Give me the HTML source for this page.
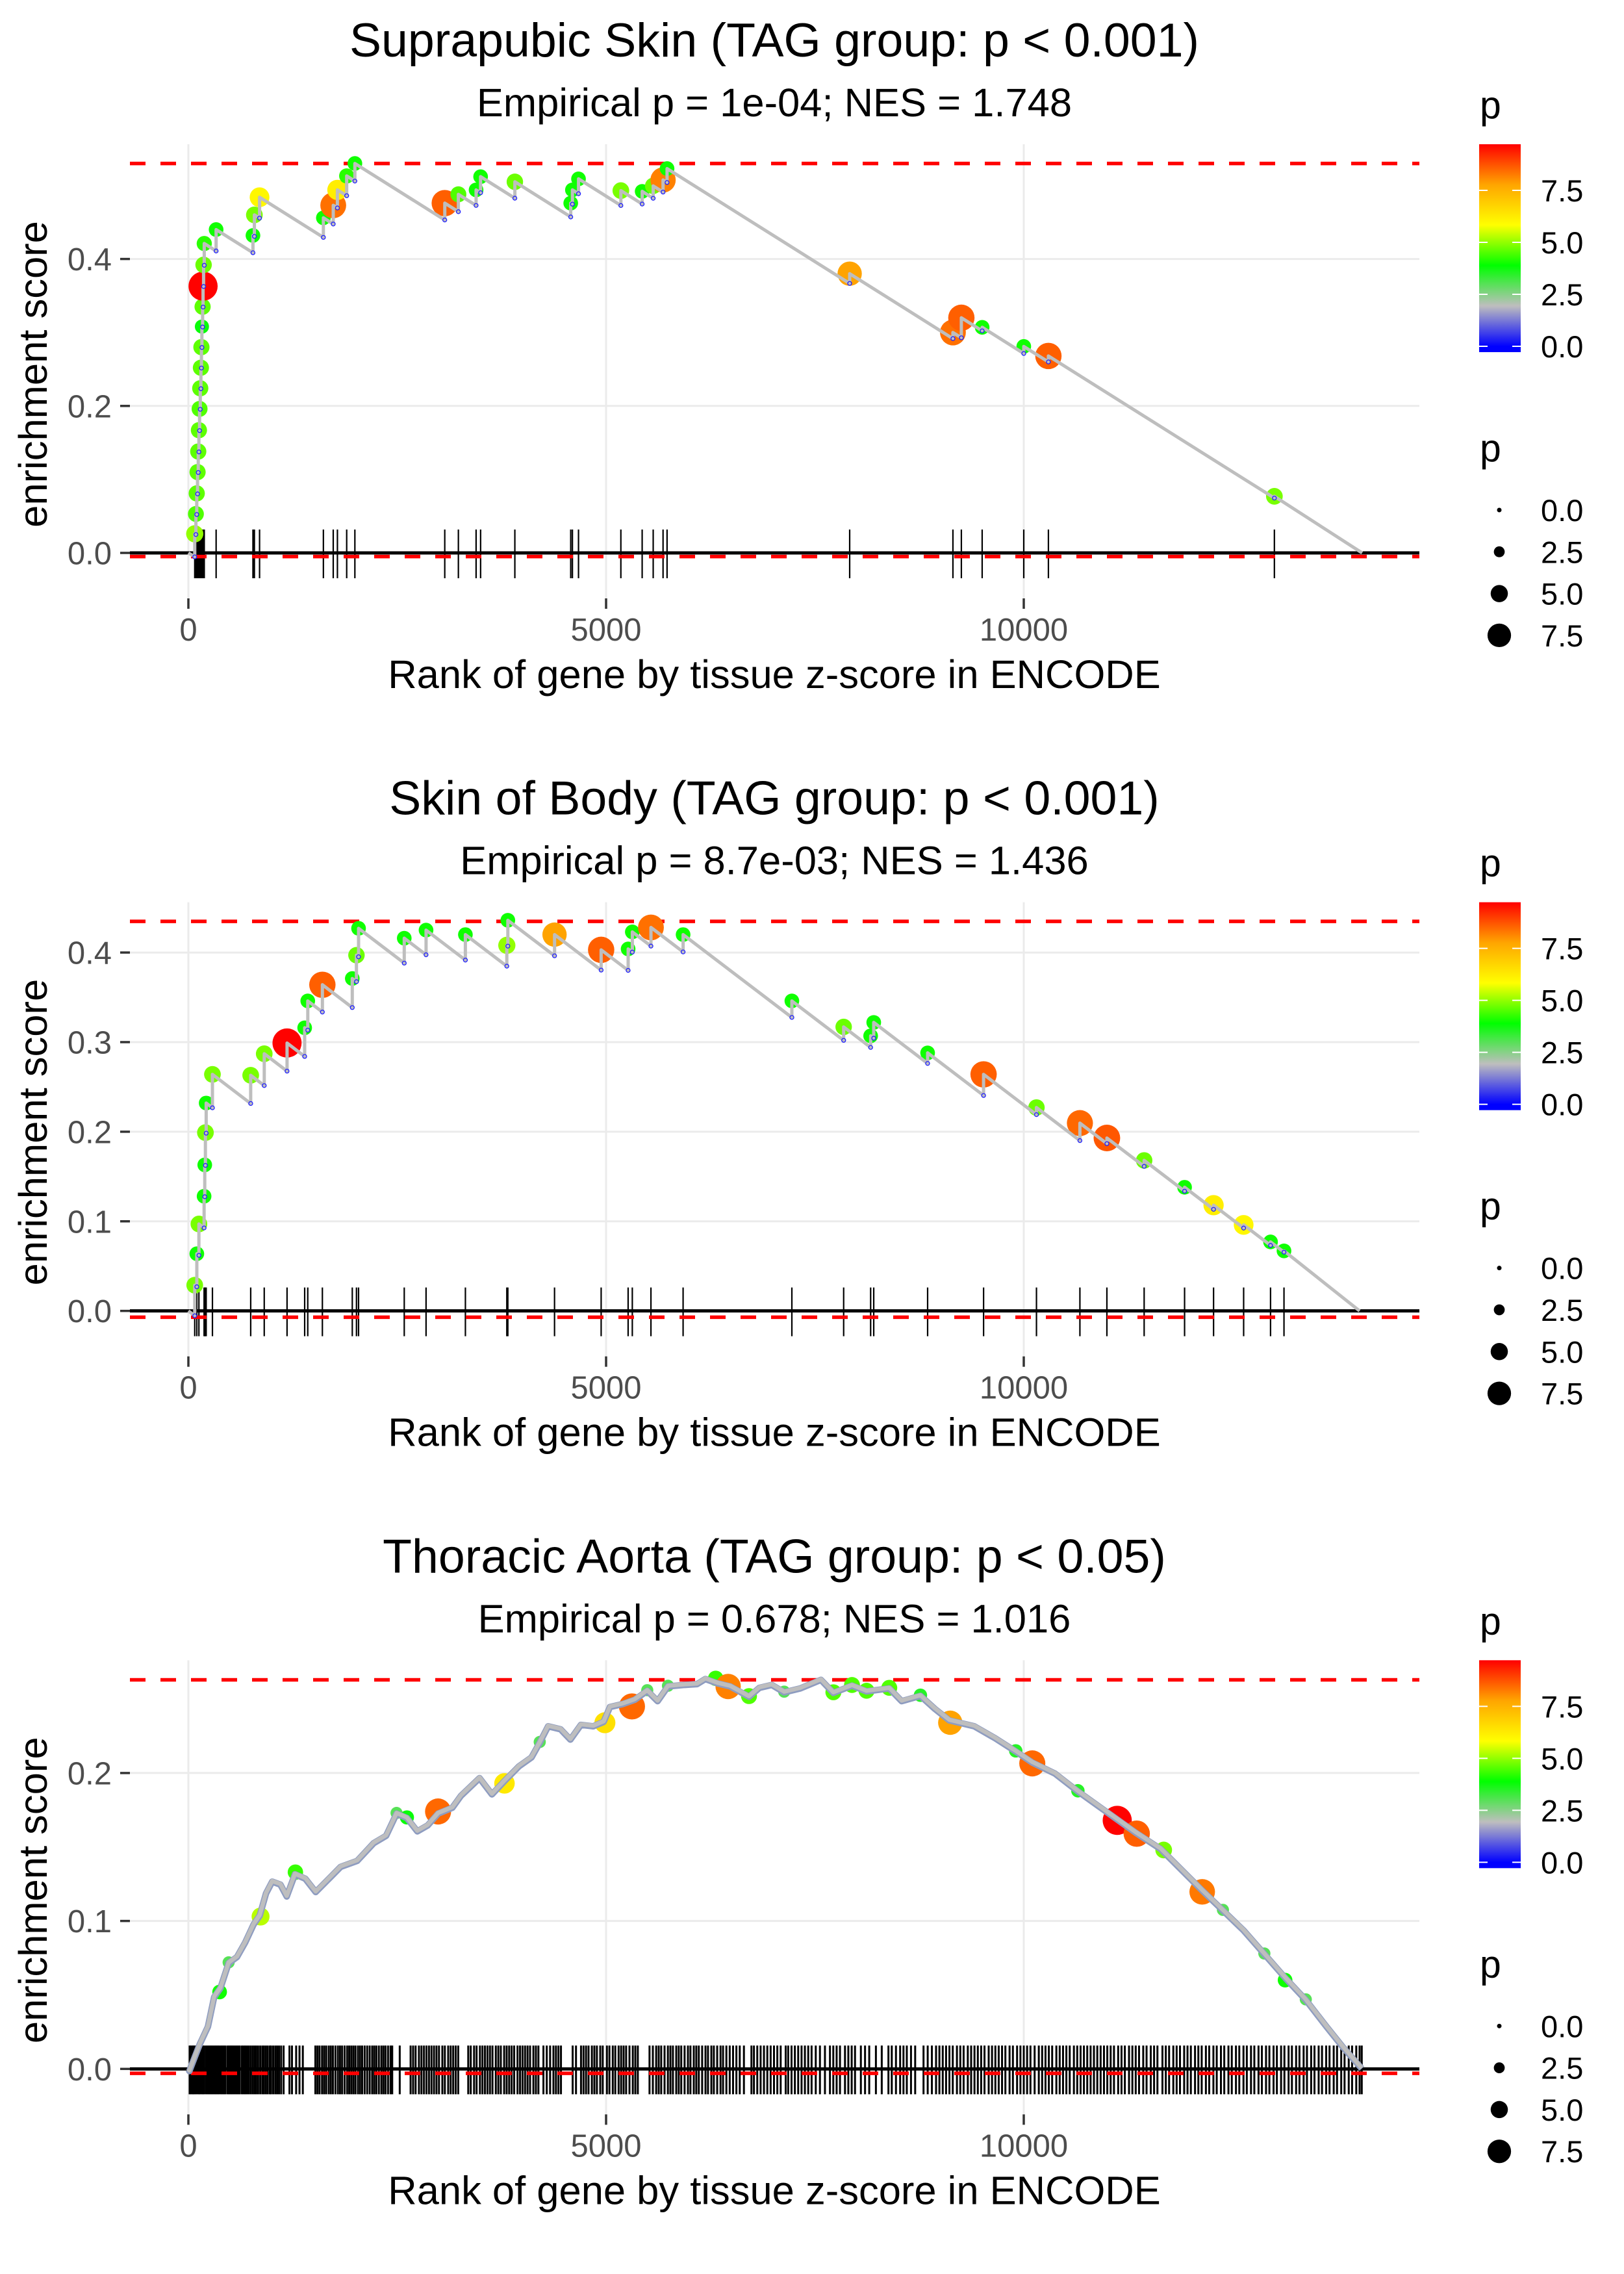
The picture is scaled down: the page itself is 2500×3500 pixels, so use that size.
<!DOCTYPE html>
<html><head><meta charset="utf-8"><title>Enrichment plots</title>
<style>html,body{margin:0;padding:0;background:#fff}svg{display:block;font-family:"Liberation Sans",Arial,sans-serif}</style>
</head><body>
<svg id="root" width="2500" height="3500" viewBox="0 0 2500 3500" xmlns="http://www.w3.org/2000/svg">
<defs>
<linearGradient id="pgrad" gradientUnits="userSpaceOnUse" x1="0" y1="533" x2="0" y2="222">
<stop offset="0" stop-color="#0000ff"/><stop offset="0.2" stop-color="#bebebe"/><stop offset="0.4" stop-color="#00ff00"/><stop offset="0.6" stop-color="#ffff00"/><stop offset="0.8" stop-color="#ffa500"/><stop offset="1" stop-color="#ff0000"/>
</linearGradient>
</defs>
</svg>
<script>
// ---------- data ----------
const panelTitles = ["Suprapubic Skin (TAG group: p < 0.001)", "Skin of Body (TAG group: p < 0.001)", "Thoracic Aorta (TAG group: p < 0.05)"];
const panelSubtitles = ["Empirical p = 1e-04; NES = 1.748", "Empirical p = 8.7e-03; NES = 1.436", "Empirical p = 0.678; NES = 1.016"];
const esMaxLines = [0.530, 0.4348, 0.263];
const esMinLines = [-0.005, -0.007, -0.003];
const endRanks = [14050, 14020, 14046];
const missPenalty = [7.15e-5, 7.1e-5];
const yTicks1 = [0.0, 0.2, 0.4];
const yTicks2 = [0.0, 0.1, 0.2, 0.3, 0.4];
const yTicks3 = [0.0, 0.1, 0.2];
const xTicks = [0, 5000, 10000];
const colorTicks = [0.0, 2.5, 5.0, 7.5];
const sizeTicks = [0.0, 2.5, 5.0, 7.5];

const p1Ranks = [76,90,100,110,118,126,134,142,150,156,162,170,176,182,190,332,773,790,852,1616,1734,1784,1895,1993,3069,3232,3444,3498,3908,4577,4597,4670,5177,5432,5564,5682,5730,7916,9152,9253,9502,10000,10295,13000];
const p1ES = [0.026,0.053,0.081,0.110,0.138,0.167,0.196,0.224,0.252,0.280,0.308,0.335,0.363,0.392,0.421,0.440,0.432,0.460,0.484,0.456,0.473,0.494,0.513,0.530,0.476,0.488,0.494,0.512,0.505,0.476,0.494,0.509,0.493,0.492,0.4995,0.5075,0.523,0.380,0.300,0.320,0.307,0.281,0.268,0.077];
const p1P = [5,4.5,4.6,4.6,4.6,4.6,4.5,4.6,4.6,4.6,3.8,4.6,9.7,4.7,4.2,4.0,4.0,4.8,6.0,4.0,8.4,6.2,4.2,4.0,8.6,4.5,4.0,4.0,4.7,4.0,4.0,4.0,4.8,4.0,4.7,8.2,4.0,7.8,8.4,8.6,4.0,4.0,8.6,4.8];

const p2Ranks = [76,101,126,188,196,204,213,288,746,908,1181,1392,1429,1604,1962,2012,2037,2584,2845,3316,3812,3824,4383,4941,5264,5314,5537,5922,7224,7844,8167,8204,8849,9519,10152,10672,10995,11441,11925,12272,12632,12954,13115];
const p2ES = [0.0287,0.0638,0.097,0.128,0.163,0.199,0.232,0.264,0.263,0.287,0.299,0.316,0.346,0.364,0.371,0.397,0.427,0.416,0.425,0.420,0.408,0.436,0.420,0.403,0.404,0.423,0.428,0.420,0.346,0.317,0.307,0.322,0.288,0.264,0.227,0.2096,0.193,0.168,0.138,0.118,0.096,0.077,0.067];
const p2P = [4.8,4.0,4.8,4.0,4.0,4.8,4.0,4.8,4.8,4.8,9.7,4.0,4.0,8.6,4.0,4.7,4.0,4.0,4.0,4.0,5.0,4.0,7.8,8.6,4.0,4.0,8.4,4.0,4.0,4.7,4.0,4.0,4.0,8.6,4.7,8.5,8.7,4.7,4.0,6.2,6.0,4.0,4.0];

const p3CurveRanks = [0,12,135,234,309,383,482,582,681,780,854,929,1003,1102,1177,1276,1400,1524,1648,1822,2020,2218,2367,2492,2616,2740,2864,2989,3160,3262,3485,3634,3784,3958,4107,4206,4306,4455,4573,4698,4847,4971,5046,5195,5344,5493,5617,5741,5940,6089,6188,6337,6486,6711,6835,6983,7132,7324,7572,7721,7944,8118,8390,8539,8763,8936,9110,9408,9656,9904,10102,10375,10648,10896,11119,11342,11640,11888,12136,12384,12632,12880,13128,13376,13624,13822,14046];
const p3CurveES = [0,-0.001,0.017,0.029,0.049,0.055,0.072,0.076,0.086,0.098,0.104,0.119,0.127,0.125,0.117,0.132,0.129,0.120,0.127,0.137,0.141,0.153,0.158,0.173,0.170,0.161,0.165,0.173,0.177,0.185,0.197,0.186,0.195,0.205,0.211,0.221,0.232,0.230,0.223,0.233,0.232,0.235,0.245,0.247,0.250,0.256,0.249,0.259,0.260,0.2605,0.264,0.261,0.259,0.252,0.258,0.260,0.255,0.2576,0.2634,0.2546,0.2595,0.2556,0.2576,0.249,0.2526,0.2438,0.236,0.232,0.224,0.215,0.2075,0.200,0.188,0.178,0.169,0.160,0.149,0.135,0.121,0.1075,0.094,0.078,0.062,0.047,0.029,0.015,0.0006];
const p3PtRanks = [482,2492,4206,5493,5741,6711,7132,7721,7944,8118,8390,8763,9904,10648,12384,12880,13376,374,864,1281,2616,2989,3784,4986,5310,6312,6461,9120,10102,11119,11352,11675,12136,13128];
const p3PtES = [0.072,0.173,0.221,0.256,0.259,0.252,0.255,0.2546,0.2595,0.2556,0.2576,0.2526,0.215,0.188,0.1075,0.078,0.047,0.052,0.103,0.133,0.170,0.174,0.193,0.234,0.245,0.264,0.2585,0.234,0.2065,0.168,0.159,0.148,0.1197,0.060];
const p3PtP = [3,3,3,3,3,4.5,3,4.5,4.5,4.5,4.5,3.5,3.5,3.5,3,3,3,4.0,5.3,4.3,3.8,8.5,6.3,6.5,8.5,4.3,8.2,7.8,8.5,9.7,8.6,4.8,8.3,4.0];
const p3Rug = [15,30,48,60,75,92,110,128,140,160,175,190,212,230,248,265,282,300,318,335,352,370,392,410,428,445,470,488,505,522,540,560,578,598,615,640,660,680,700,722,745,768,790,812,835,860,885,905,928,950,975,990,
1015,1040,1062,1085,1110,1140,1210,1240,1290,1330,1370,1520,1545,1570,1600,1625,1650,1680,1705,1730,1760,1790,1815,1840,1870,1900,1925,1950,1975,
2000,2030,2055,2080,2110,2140,2170,2200,2225,2250,2280,2310,2335,2360,2390,2420,2440,2530,2660,2690,2720,2760,2790,2820,2850,2880,2910,2940,2970,
3000,3040,3070,3110,3140,3170,3200,3230,3350,3380,3420,3450,3490,3520,3550,3580,3610,3640,3680,3710,3740,3780,3810,3840,3870,3900,3940,3970,
4000,4030,4060,4090,4130,4160,4190,4250,4290,4330,4370,4400,4430,4460,4600,4640,4700,4730,4760,4790,4830,4860,4890,4930,4960,
5010,5040,5080,5110,5150,5180,5210,5240,5280,5320,5350,5380,5520,5560,5600,5630,5660,5700,5740,5770,5800,5840,5870,5900,5940,5980,
6010,6050,6080,6110,6150,6190,6220,6260,6290,6330,6370,6400,6440,6480,6520,6560,6600,6650,6740,6770,6810,6850,6890,6930,6970,
7010,7050,7090,7150,7180,7220,7260,7300,7340,7380,7420,7460,7510,7560,7620,7680,7720,7760,7800,7860,7900,7940,7980,
8050,8100,8150,8230,8300,8380,8420,8470,8520,8560,8600,8650,8700,8800,8850,8900,8950,8990,
9030,9070,9110,9150,9200,9240,9280,9330,9370,9410,9450,9490,9530,9580,9620,9660,9700,9740,9780,9830,9870,9920,9960,
10000,10040,10080,10130,10180,10220,10260,10300,10340,10390,10430,10470,10510,10550,10600,10640,10680,10720,10760,10800,10840,10880,10920,10960,
11000,11040,11080,11130,11170,11210,11260,11300,11340,11380,11430,11470,11520,11560,11600,11660,11700,11740,11790,11830,11870,11920,11960,
12000,12050,12090,12130,12180,12220,12270,12310,12360,12400,12450,12490,12540,12580,12630,12670,12720,12760,12810,12850,12900,12940,12990,
13030,13080,13120,13170,13210,13260,13300,13350,13390,13440,13480,13530,13570,13620,13660,13710,13750,13800,13840,13890,13930,13980,14020,14046];

// ---------- helpers ----------
const NS = "http://www.w3.org/2000/svg";
const root = document.getElementById("root");
function mk(tag, attrs, parent) {
  const e = document.createElementNS(NS, tag);
  for (const k in attrs) e.setAttribute(k, attrs[k]);
  parent.appendChild(e);
  return e;
}
const colorStops = [[0, [0,0,255]], [1.944, [190,190,190]], [3.888, [0,255,0]], [5.832, [255,255,0]], [7.776, [255,165,0]], [9.72, [255,0,0]]];
function pColor(p) {
  if (p <= 0) return "rgb(0,0,255)";
  for (let i = 1; i < colorStops.length; i++) {
    if (p <= colorStops[i][0]) {
      const a = colorStops[i-1], b = colorStops[i];
      const t = (p - a[0]) / (b[0] - a[0]);
      const c = a[1].map((v, j) => Math.round(v + (b[1][j] - v) * t));
      return "rgb(" + c.join(",") + ")";
    }
  }
  return "rgb(255,0,0)";
}
function pRadius(p) { return 3.5 + 1.95 * p; }
const X0 = 290, XPX = 643 / 5000, Y0 = 851;
function xs(r) { return X0 + r * XPX; }
const yScaleK = [1131, 1379, 2277];
const PL = 200, PR = 2185, PT = 222, PB = 930;
const FS_TITLE = 73.5, FS_SUB = 61.5, FS_AXT = 61.5, FS_TICK = 49, FS_LEG = 47, FS_LEGT = 59;

function drawPanel(idx) {
  const g = mk("g", {transform: "translate(0," + (idx * 3500 / 3).toFixed(2) + ")"}, root);
  
  
  const K = yScaleK[idx];
  const ys = v => Y0 - v * K;
  const yT = [yTicks1, yTicks2, yTicks3][idx];

  const t = mk("text", {x: 1192, y: 87, "font-size": FS_TITLE, "text-anchor": "middle", fill: "#000"}, g);
  t.textContent = panelTitles[idx];
  
  
  const st = mk("text", {x: 1192, y: 179, "font-size": FS_SUB, "text-anchor": "middle", fill: "#000"}, g);
  st.textContent = panelSubtitles[idx];
  
  

  const grid = mk("g", {stroke: "#ebebeb", "stroke-width": 3}, g);
  
  
  xTicks.forEach(v => {
    const l = mk("line", {x1: xs(v), x2: xs(v), y1: PT, y2: PB}, grid);
    
    
  });
  yT.forEach(v => {
    const l = mk("line", {x1: PL, x2: PR, y1: ys(v), y2: ys(v)}, grid);
    
    
  });

  yT.forEach(v => {
    const tk = mk("line", {x1: 185, x2: 200, y1: ys(v), y2: ys(v), stroke: "#333", "stroke-width": 3.5}, g);
    
    
    const tl = mk("text", {x: 172, y: ys(v) + 17.5, "font-size": FS_TICK, "text-anchor": "end", fill: "#4d4d4d"}, g);
    tl.textContent = v.toFixed(1);
    
    
  });
  xTicks.forEach(v => {
    const tk = mk("line", {x1: xs(v), x2: xs(v), y1: 921, y2: 937, stroke: "#333", "stroke-width": 3.5}, g);
    
    
    const tl = mk("text", {x: xs(v), y: 986, "font-size": FS_TICK, "text-anchor": "middle", fill: "#4d4d4d"}, g);
    tl.textContent = String(v);
    
    
  });
  const xt = mk("text", {x: 1192, y: 1059, "font-size": FS_AXT, "text-anchor": "middle", fill: "#000"}, g);
  xt.textContent = "Rank of gene by tissue z-score in ENCODE";
  
  
  const yt = mk("text", {transform: "translate(72,576) rotate(-90)", "font-size": FS_AXT, "text-anchor": "middle", fill: "#000"}, g);
  yt.textContent = "enrichment score";
  
  

  const rugRanks = [p1Ranks, p2Ranks, p3Rug][idx];
  const rug = mk("g", {stroke: "#000", "stroke-width": idx === 2 ? 3 : 2.2}, g);
  
  
  rugRanks.forEach(r => {
    const l = mk("line", {x1: xs(r), x2: xs(r), y1: 815, y2: 890}, rug);
    
    
  });

  const zl = mk("line", {x1: PL, x2: PR, y1: ys(0), y2: ys(0), stroke: "#000", "stroke-width": 5}, g);
  
  
  [esMaxLines[idx], esMinLines[idx]].forEach((v, j) => {
    const l = mk("line", {x1: PL, x2: PR, y1: ys(v), y2: ys(v), stroke: "#ff0000", "stroke-width": 5.5, "stroke-dasharray": "24 23"}, g);
    
    
  });

  const pts = mk("g", {}, g);
  
  
  if (idx < 2) {
    const R = [p1Ranks, p2Ranks][idx], E = [p1ES, p2ES][idx], P = [p1P, p2P][idx];
    const pen = missPenalty[idx];
    for (let i = 0; i < R.length; i++) {
      const c = mk("ellipse", {cx: xs(R[i]), cy: ys(E[i]), rx: pRadius(P[i]), ry: pRadius(P[i]), fill: pColor(P[i])}, pts);
      
      
    }
    let d = "M" + xs(0) + "," + ys(0);
    let prevR = 0, prevE = 0;
    const bottoms = [];
    for (let i = 0; i < R.length; i++) {
      const b = prevE - pen * (R[i] - prevR);
      bottoms.push(b);
      d += " L" + xs(R[i]).toFixed(1) + "," + ys(b).toFixed(1) + " L" + xs(R[i]).toFixed(1) + "," + ys(E[i]).toFixed(1);
      prevR = R[i]; prevE = E[i];
    }
    d += " L" + xs(endRanks[idx]) + "," + ys(0);
    const path = mk("path", {d: d, fill: "none", stroke: "#bebebe", "stroke-width": 5, "stroke-linejoin": "round"}, g);
    
    
    const bl = mk("g", {fill: "none", stroke: "#2020ff", "stroke-width": 1.3}, g);
    
    
    bottoms.forEach((b, i) => {
      const c = mk("circle", {cx: xs(R[i]), cy: ys(b), r: 3}, bl);
      
      
    });
  } else {
    let d = "";
    for (let i = 0; i < p3CurveRanks.length; i++) {
      d += (i ? " L" : "M") + xs(p3CurveRanks[i]).toFixed(1) + "," + ys(p3CurveES[i]).toFixed(1);
    }
    const under = mk("path", {d: d, fill: "none", stroke: "#8e9cc0", "stroke-width": 10, "stroke-linejoin": "round", transform: "translate(0,1)"}, g);
    
    
    for (let i = 0; i < p3PtRanks.length; i++) {
      const c = mk("ellipse", {cx: xs(p3PtRanks[i]), cy: ys(p3PtES[i]), rx: pRadius(p3PtP[i]), ry: pRadius(p3PtP[i]), fill: pColor(p3PtP[i])}, pts);
      
      
    }
    const path = mk("path", {d: d, fill: "none", stroke: "#bebebe", "stroke-width": 6.5, "stroke-linejoin": "round"}, g);
    
    
  }

  const lg = mk("g", {}, g);
  
  
  const lt = mk("text", {x: 2278, y: 182, "font-size": FS_LEGT, fill: "#000"}, lg);
  lt.textContent = "p";
  
  
  const bar = mk("rect", {x: 2277, y: 222, width: 64, height: 320, fill: "url(#pgrad)"}, lg);
  
  
  colorTicks.forEach(v => {
    const yy = 533 - v * 32;
    const a = mk("line", {x1: 2277, x2: 2290, y1: yy, y2: yy, stroke: "#fff", "stroke-width": 2}, lg);
    
    
    const b = mk("line", {x1: 2328, x2: 2341, y1: yy, y2: yy, stroke: "#fff", "stroke-width": 2}, lg);
    
    
    const tl = mk("text", {x: 2372, y: yy + 17, "font-size": FS_LEG, fill: "#000"}, lg);
    tl.textContent = v.toFixed(1);
    
    
  });

  const sg = mk("g", {}, g);
  
  
  const s0 = mk("text", {x: 2278, y: 710, "font-size": FS_LEGT, fill: "#000"}, sg);
  s0.textContent = "p";
  
  
  sizeTicks.forEach((v, i) => {
    const yy = 785 + i * 64.3;
    const c = mk("circle", {cx: 2308, cy: yy, r: pRadius(v), fill: "#000"}, sg);
    
    
    const tl = mk("text", {x: 2372, y: yy + 17, "font-size": FS_LEG, fill: "#000"}, sg);
    tl.textContent = v.toFixed(1);
    
    
  });
}
for (let i = 0; i < 3; i++) drawPanel(i);
</script>
</body></html>
